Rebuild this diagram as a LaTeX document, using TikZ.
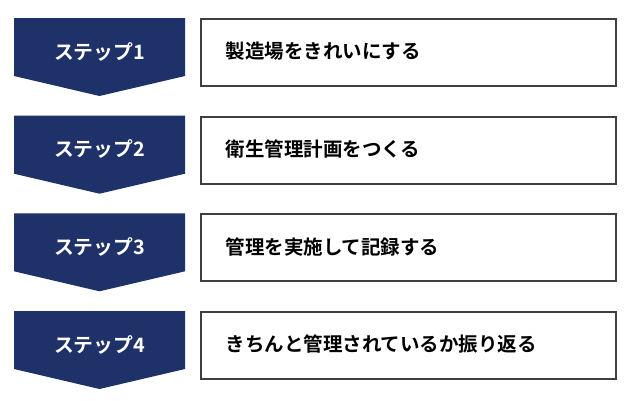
\documentclass[tikz,border=0pt]{standalone}
\usepackage{fontspec}
\newfontfamily\jpfont{Noto Sans CJK JP}[BoldFont={* Bold}]
\definecolor{navy}{HTML}{1F3169}
\definecolor{boxline}{HTML}{3F3F3F}
\begin{document}
\begin{tikzpicture}[x=1pt,y=-1pt,
  steplabel/.style={text=white,font=\jpfont\bfseries\fontsize{19.8}{22}\selectfont},
  taskbox/.style={draw=boxline,line width=2pt,minimum width=415pt,minimum height=67pt,anchor=north west,inner sep=0pt},
  tasktext/.style={font=\jpfont\bfseries\fontsize{19.5}{22}\selectfont,anchor=west}]
\useasboundingbox (0,0) rectangle (630,400);
\foreach \i/\t/\txt in {1/18/製造場をきれいにする,2/115.7/衛生管理計画をつくる,3/213.3/管理を実施して記録する,4/311/きちんと管理されているか振り返る}{
  \fill[navy] (14,\t) -- (185,\t) -- (185,\t+58) -- (99.5,\t+78) -- (14,\t+58) -- cycle;
  \node[steplabel] (s\i) at (99.5,\t+33.5) {ステップ\i};
  \node[taskbox] (b\i) at (200,\t) {};
  \node[tasktext] (t\i) at (222,\t+33.5) {\txt};
}
\end{tikzpicture}
\end{document}
